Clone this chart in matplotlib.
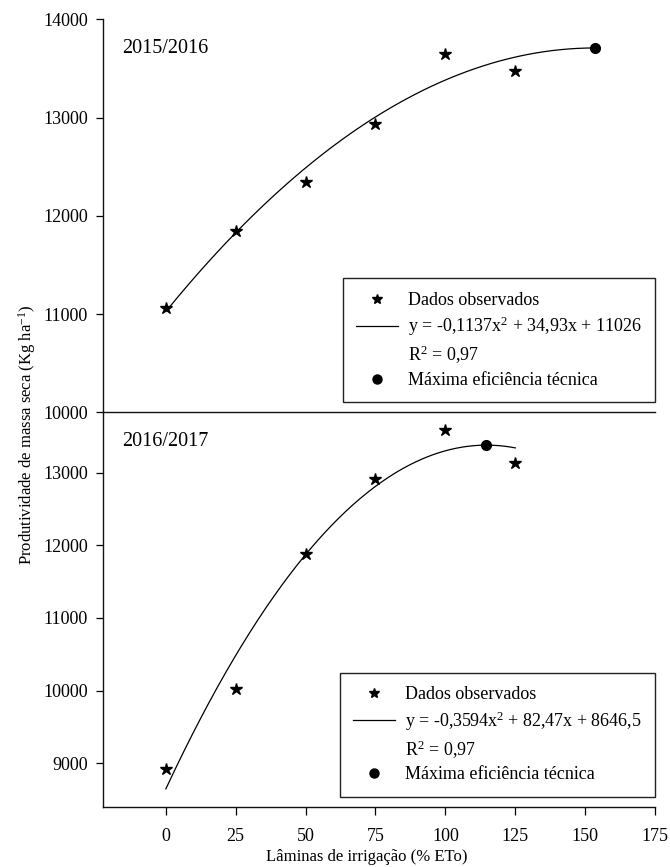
import matplotlib
matplotlib.use('Agg')
import matplotlib.pyplot as plt
import numpy as np
from matplotlib.lines import Line2D

plt.rcParams['font.family'] = ['Liberation Serif', 'DejaVu Serif']
plt.rcParams['mathtext.fontset'] = 'custom'
plt.rcParams['mathtext.rm'] = 'Liberation Serif'
plt.rcParams['mathtext.it'] = 'Liberation Serif:italic'

# ---- data ----
x_obs = [0, 25, 50, 75, 100, 125]
y_2015 = [11058, 11841, 12340, 12930, 13652, 13469]
y_2016 = [8917, 10023, 11881, 12908, 13583, 13128]
coef_2015 = [-0.1137, 34.93, 11026]
coef_2016 = [-0.3594, 82.47, 8646.5]
curve_end_2015 = 153.6
curve_end_2016 = 125
mte_2015_x = [153.6]
mte_2015_y = [13709]
mte_2016_x = [114.7]
mte_2016_y = [13377]
x_ticks = [0, 25, 50, 75, 100, 125, 150, 175]
y_ticks_top = [10000, 11000, 12000, 13000, 14000]
y_ticks_bot = [9000, 10000, 11000, 12000, 13000]
panel_labels = ['2015/2016', '2016/2017']
eq_labels = ['y = -0,1137x$^2$ + 34,93x + 11026', 'y = -0,3594x$^2$ + 82,47x + 8646,5']
r2_labels = ['R$^2$ = 0,97', 'R$^2$ = 0,97']

fig = plt.figure(figsize=(6.7, 8.67), dpi=100)
ax1 = fig.add_axes([0.1537, 0.5245, 0.8239, 0.4532])
ax2 = fig.add_axes([0.1537, 0.0695, 0.8239, 0.455])
ax1.patch.set_visible(False)
ax2.patch.set_visible(False)
ax1.set_zorder(2)

panels = [
    (ax1, y_2015, coef_2015, curve_end_2015, mte_2015_x, mte_2015_y, (10000, 14000), y_ticks_top),
    (ax2, y_2016, coef_2016, curve_end_2016, mte_2016_x, mte_2016_y, (8400, 13830), y_ticks_bot),
]

for i, (ax, yo, coef, xend, mx, my, ylim, yt) in enumerate(panels):
    xs = np.linspace(0, xend, 300)
    ax.plot(xs, np.polyval(coef, xs), color='k', lw=0.9)
    ax.plot(x_obs, yo, ls='none', marker='*', ms=9, color='k')
    ax.plot(mx, my, ls='none', marker='o', ms=7, color='k')
    ax.set_xlim(-22.5, 175)
    ax.set_ylim(*ylim)
    ax.set_yticks(yt)
    ax.set_yticklabels([str(v) for v in yt])
    for s in ['top', 'right']:
        ax.spines[s].set_visible(False)
    for s in ['left', 'bottom']:
        ax.spines[s].set_linewidth(1.0)
        ax.spines[s].set_color('#111111')
    ax.tick_params(axis='y', direction='out', length=5, width=0.9, labelsize=13, pad=6)
    ax.text(0.034, 0.925, panel_labels[i], transform=ax.transAxes, fontsize=14.5,
            ha='left', va='center')
    handles = [
        Line2D([], [], ls='none', marker='*', ms=7.5, color='k'),
        Line2D([], [], color='k', lw=0.9),
        Line2D([], [], ls='none'),
        Line2D([], [], ls='none', marker='o', ms=6.5, color='k'),
    ]
    labels = ['Dados observados', eq_labels[i], r2_labels[i], 'Máxima eficiência técnica']
    leg = ax.legend(handles, labels, loc='lower right', bbox_to_anchor=(1.0, 0.025),
                    fontsize=13, frameon=True, fancybox=False, edgecolor='#222222',
                    framealpha=1, labelspacing=0.32, handlelength=2.3,
                    handletextpad=0.55, borderpad=0.75, borderaxespad=0)
    leg.get_frame().set_linewidth(1.0)

ax1.set_xticks(x_ticks)
ax1.tick_params(axis='x', bottom=False, labelbottom=False)
ax2.set_xticks(x_ticks)
ax2.tick_params(axis='x', direction='out', length=6, width=0.9, labelsize=13, pad=9)

fig.text(0.548, 0.0115, 'Lâminas de irrigação (% ETo)', fontsize=12, ha='center', va='center')
fig.text(0.04, 0.498, 'Produtividade de massa seca (Kg ha$^{-1}$)', fontsize=12,
         rotation=90, ha='center', va='center')

fig.savefig('out.png', dpi=100)
